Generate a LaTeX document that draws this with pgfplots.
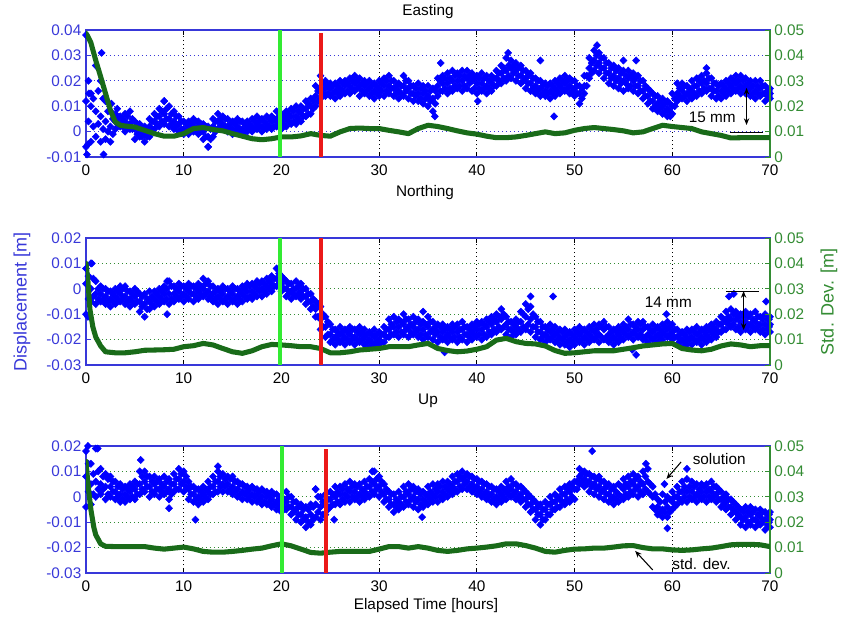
\documentclass[border=0pt]{standalone}
\usepackage{pgfplots}
\usepackage{pgfplotstable}
\pgfplotsset{compat=1.18}
\usetikzlibrary{arrows.meta}
\usepackage{fontspec}
\setmainfont{Liberation Sans}
\definecolor{ptblue}{rgb}{0,0,1}
\definecolor{sdgreen}{rgb}{0.1,0.42,0.1}
\definecolor{lblue}{rgb}{0.22,0.22,0.85}
\definecolor{rgreen}{rgb}{0.2,0.55,0.2}
\definecolor{vgreen}{rgb}{0.2,0.92,0.2}
\definecolor{vred}{rgb}{0.92,0.1,0.1}
\newcommand\tf{\fontsize{11.5}{13}\selectfont}
\newcommand\lf{\fontsize{13.5}{15}\selectfont}
\tikzset{ann/.style={black, line width=0.8pt}}

\pgfplotstableread{
x a b c xq d e
0.0 -0.006 0.012 0.038 0.25 0.004 0.020
0.5 -0.004 0.010 0.015 0.75 0.002 0.013
1.0 -0.002 0.008 0.026 1.25 0.003 0.016
1.5 -0.004 0.006 0.020 1.75 0.001 0.013
2.0 -0.003 0.004 0.012 2.25 0.000 0.008
2.5 -0.004 0.002 0.008 2.75 -0.001 0.005
3.0 0.001 0.004 0.007 3.25 0.003 0.005
3.5 0.002 0.003 0.006 3.75 0.002 0.005
4.0 0.000 0.004 0.007 4.25 0.002 0.006
4.5 0.001 0.003 0.008 4.75 0.001 0.005
5.0 -0.003 0.001 0.004 5.25 -0.001 0.003
5.5 -0.002 0.000 0.003 5.75 -0.002 0.001
6.0 -0.004 -0.001 0.002 6.25 -0.002 0.001
6.5 -0.002 0.002 0.005 6.75 0.001 0.004
7.0 0.001 0.004 0.007 7.25 0.003 0.006
7.5 0.002 0.006 0.009 7.75 0.004 0.008
8.0 0.003 0.007 0.012 8.25 0.005 0.009
8.5 0.002 0.005 0.010 8.75 0.003 0.007
9.0 0.001 0.004 0.008 9.25 0.002 0.006
9.5 0.000 0.003 0.006 9.75 0.001 0.004
10.0 -0.001 0.001 0.004 10.25 0.000 0.003
10.5 -0.001 0.002 0.004 10.75 0.001 0.003
11.0 0.000 0.002 0.005 11.25 0.001 0.004
11.5 -0.001 0.002 0.004 11.75 0.000 0.003
12.0 -0.003 0.000 0.003 12.25 -0.002 0.002
12.5 -0.006 -0.002 0.002 12.75 -0.003 0.001
13.0 -0.002 0.002 0.005 13.25 0.000 0.004
13.5 0.001 0.004 0.007 13.75 0.002 0.005
14.0 0.001 0.003 0.006 14.25 0.002 0.005
14.5 0.000 0.002 0.005 14.75 0.001 0.003
15.0 -0.001 0.001 0.004 15.25 0.000 0.003
15.5 0.000 0.002 0.005 15.75 0.001 0.004
16.0 -0.001 0.001 0.004 16.25 0.000 0.003
16.5 0.000 0.002 0.004 16.75 0.001 0.003
17.0 0.000 0.002 0.005 17.25 0.001 0.004
17.5 0.001 0.003 0.006 17.75 0.002 0.004
18.0 0.000 0.002 0.005 18.25 0.001 0.004
18.5 0.001 0.003 0.006 18.75 0.002 0.005
19.0 0.001 0.004 0.006 19.25 0.002 0.005
19.5 0.002 0.004 0.008 19.75 0.003 0.006
20.0 0.001 0.004 0.007 20.25 0.003 0.006
20.5 0.002 0.005 0.008 20.75 0.004 0.007
21.0 0.003 0.006 0.009 21.25 0.004 0.008
21.5 0.003 0.006 0.010 21.75 0.005 0.008
22.0 0.004 0.007 0.010 22.25 0.006 0.009
22.5 0.006 0.009 0.012 22.75 0.007 0.011
23.0 0.007 0.010 0.013 23.25 0.009 0.012
23.5 0.010 0.014 0.018 23.75 0.012 0.016
24.0 0.013 0.017 0.022 24.25 0.015 0.019
24.5 0.014 0.017 0.020 24.75 0.015 0.018
25.0 0.014 0.017 0.019 25.25 0.015 0.018
25.5 0.013 0.016 0.019 25.75 0.015 0.018
26.0 0.014 0.017 0.020 26.25 0.016 0.019
26.5 0.015 0.018 0.020 26.75 0.016 0.019
27.0 0.015 0.018 0.021 27.25 0.017 0.020
27.5 0.016 0.019 0.022 27.75 0.017 0.020
28.0 0.014 0.018 0.021 28.25 0.016 0.019
28.5 0.015 0.018 0.020 28.75 0.016 0.019
29.0 0.014 0.017 0.020 29.25 0.015 0.018
29.5 0.013 0.016 0.019 29.75 0.015 0.018
30.0 0.014 0.017 0.020 30.25 0.016 0.019
30.5 0.014 0.018 0.021 30.75 0.016 0.020
31.0 0.015 0.018 0.022 31.25 0.017 0.020
31.5 0.014 0.017 0.020 31.75 0.015 0.018
32.0 0.013 0.016 0.019 32.25 0.015 0.018
32.5 0.014 0.018 0.022 32.75 0.016 0.020
33.0 0.013 0.017 0.020 33.25 0.015 0.018
33.5 0.012 0.015 0.018 33.75 0.014 0.017
34.0 0.012 0.015 0.019 34.25 0.013 0.017
34.5 0.011 0.015 0.018 34.75 0.013 0.016
35.0 0.010 0.014 0.018 35.25 0.012 0.016
35.5 0.008 0.013 0.017 35.75 0.011 0.016
36.0 0.014 0.018 0.021 36.25 0.016 0.020
36.5 0.016 0.019 0.022 36.75 0.017 0.021
37.0 0.015 0.019 0.023 37.25 0.017 0.021
37.5 0.016 0.020 0.024 37.75 0.018 0.022
38.0 0.017 0.020 0.023 38.25 0.018 0.022
38.5 0.016 0.020 0.024 38.75 0.018 0.022
39.0 0.017 0.021 0.024 39.25 0.019 0.022
39.5 0.016 0.020 0.023 39.75 0.017 0.021
40.0 0.015 0.019 0.022 40.25 0.017 0.021
40.5 0.016 0.019 0.023 40.75 0.017 0.021
41.0 0.015 0.018 0.022 41.25 0.017 0.020
41.5 0.016 0.019 0.022 41.75 0.018 0.021
42.0 0.018 0.021 0.024 42.25 0.020 0.023
42.5 0.019 0.023 0.026 42.75 0.021 0.025
43.0 0.020 0.024 0.029 43.25 0.022 0.026
43.5 0.021 0.025 0.028 43.75 0.023 0.026
44.0 0.020 0.024 0.027 44.25 0.022 0.025
44.5 0.019 0.022 0.026 44.75 0.020 0.024
45.0 0.017 0.021 0.024 45.25 0.019 0.022
45.5 0.016 0.019 0.023 45.75 0.017 0.021
46.0 0.015 0.018 0.021 46.25 0.016 0.020
46.5 0.014 0.017 0.020 46.75 0.015 0.018
47.0 0.014 0.016 0.019 47.25 0.015 0.018
47.5 0.013 0.016 0.019 47.75 0.015 0.018
48.0 0.014 0.017 0.020 48.25 0.016 0.019
48.5 0.015 0.018 0.021 48.75 0.017 0.020
49.0 0.016 0.019 0.022 49.25 0.017 0.020
49.5 0.015 0.018 0.021 49.75 0.016 0.020
50.0 0.014 0.017 0.020 50.25 0.015 0.018
50.5 0.011 0.015 0.018 50.75 0.013 0.017
51.0 0.015 0.018 0.022 51.25 0.018 0.022
51.5 0.021 0.025 0.029 51.75 0.023 0.027
52.0 0.024 0.028 0.032 52.25 0.026 0.030
52.5 0.023 0.027 0.031 52.75 0.025 0.029
53.0 0.021 0.025 0.029 53.25 0.023 0.027
53.5 0.019 0.023 0.027 53.75 0.021 0.025
54.0 0.018 0.022 0.026 54.25 0.020 0.024
54.5 0.017 0.021 0.025 54.75 0.019 0.023
55.0 0.016 0.020 0.024 55.25 0.019 0.022
55.5 0.017 0.021 0.024 55.75 0.018 0.022
56.0 0.016 0.020 0.023 56.25 0.018 0.021
56.5 0.015 0.018 0.022 56.75 0.016 0.020
57.0 0.013 0.016 0.020 57.25 0.014 0.018
57.5 0.011 0.014 0.017 57.75 0.012 0.016
58.0 0.009 0.012 0.015 58.25 0.010 0.014
58.5 0.008 0.011 0.014 58.75 0.009 0.012
59.0 0.007 0.010 0.013 59.25 0.008 0.011
59.5 0.006 0.009 0.012 59.75 0.008 0.011
60.0 0.007 0.010 0.015 60.25 0.010 0.013
60.5 0.012 0.015 0.019 60.75 0.014 0.017
61.0 0.013 0.016 0.019 61.25 0.014 0.018
61.5 0.012 0.015 0.018 61.75 0.014 0.017
62.0 0.013 0.016 0.020 62.25 0.015 0.018
62.5 0.014 0.018 0.021 62.75 0.016 0.020
63.0 0.015 0.019 0.022 63.25 0.017 0.020
63.5 0.016 0.019 0.023 63.75 0.017 0.021
64.0 0.014 0.017 0.021 64.25 0.016 0.019
64.5 0.013 0.016 0.019 64.75 0.014 0.018
65.0 0.013 0.016 0.019 65.25 0.015 0.018
65.5 0.014 0.017 0.020 65.75 0.016 0.019
66.0 0.015 0.018 0.021 66.25 0.017 0.020
66.5 0.016 0.019 0.022 66.75 0.017 0.020
67.0 0.015 0.018 0.022 67.25 0.017 0.020
67.5 0.015 0.018 0.021 67.75 0.016 0.019
68.0 0.014 0.017 0.020 68.25 0.015 0.018
68.5 0.013 0.016 0.020 68.75 0.015 0.018
69.0 0.014 0.017 0.020 69.25 0.015 0.018
69.5 0.012 0.015 0.018 69.75 0.014 0.016
70.0 0.013 0.015 0.017 69.9 0.014 0.016
}\eastblue

\pgfplotstableread{
x s
0 0.0487
0.25 0.047
0.5 0.045
0.75 0.0415
1 0.038
1.5 0.0316
2 0.025
2.5 0.0184
3 0.0138
3.5 0.0125
4 0.0122
5 0.0118
6 0.0105
7 0.0092
8 0.0082
9 0.0082
10 0.0092
11 0.0112
12 0.0116
13 0.0108
14 0.0103
15 0.0092
16 0.0082
17 0.0072
18 0.0068
19 0.0072
20 0.0079
21 0.0079
22 0.0083
23 0.0092
24 0.0085
25 0.0082
26 0.0099
27 0.0112
28 0.0114
29 0.0112
30 0.0112
31 0.0105
32 0.0099
33 0.0092
34 0.0112
35 0.0125
36 0.012
37 0.0112
38 0.0103
39 0.0095
40 0.009
41 0.0082
42 0.0076
43 0.0076
44 0.0079
45 0.0085
46 0.0092
47 0.0099
48 0.0092
49 0.0095
50 0.0105
51 0.0112
52 0.0116
53 0.0112
54 0.0108
55 0.0103
56 0.0095
57 0.0099
58 0.0112
59 0.0125
60 0.012
61 0.0116
62 0.0112
63 0.0099
64 0.0092
65 0.0085
66 0.0075
67 0.0076
68 0.0076
69 0.0076
70 0.0076
}\eastsd

\pgfplotstableread{
x a b c xq d e
0.0 -0.010 0.002 0.008 0.25 -0.004 0.005
0.5 -0.005 0.000 0.010 0.75 -0.003 0.004
1.0 -0.006 -0.002 0.003 1.25 -0.004 0.000
1.5 -0.005 -0.002 0.001 1.75 -0.004 0.000
2.0 -0.006 -0.003 0.000 2.25 -0.005 -0.001
2.5 -0.007 -0.004 -0.001 2.75 -0.005 -0.002
3.0 -0.006 -0.003 0.000 3.25 -0.004 -0.001
3.5 -0.005 -0.002 0.001 3.75 -0.004 0.000
4.0 -0.006 -0.003 0.001 4.25 -0.005 -0.001
4.5 -0.007 -0.004 -0.001 4.75 -0.005 -0.002
5.0 -0.006 -0.003 0.000 5.25 -0.005 -0.001
5.5 -0.009 -0.005 -0.002 5.75 -0.007 -0.003
6.0 -0.011 -0.006 -0.002 6.25 -0.008 -0.004
6.5 -0.008 -0.005 -0.001 6.75 -0.006 -0.003
7.0 -0.007 -0.004 -0.001 7.25 -0.005 -0.002
7.5 -0.006 -0.003 0.000 7.75 -0.004 -0.001
8.0 -0.005 -0.002 0.001 8.25 -0.004 0.000
8.5 -0.006 -0.002 0.003 8.75 -0.004 0.001
9.0 -0.005 -0.002 0.001 9.25 -0.003 0.000
9.5 -0.004 -0.001 0.002 9.75 -0.003 0.001
10.0 -0.005 -0.002 0.001 10.25 -0.003 0.000
10.5 -0.004 -0.001 0.002 10.75 -0.002 0.001
11.0 -0.005 -0.002 0.001 11.25 -0.003 0.000
11.5 -0.004 -0.001 0.002 11.75 -0.002 0.001
12.0 -0.003 0.000 0.004 12.25 -0.002 0.002
12.5 -0.004 -0.001 0.003 12.75 -0.003 0.001
13.0 -0.005 -0.002 0.001 13.25 -0.004 -0.001
13.5 -0.006 -0.003 0.000 13.75 -0.004 -0.001
14.0 -0.005 -0.002 0.001 14.25 -0.004 0.000
14.5 -0.006 -0.003 0.000 14.75 -0.004 -0.001
15.0 -0.005 -0.002 0.001 15.25 -0.004 0.000
15.5 -0.006 -0.003 0.000 15.75 -0.004 -0.001
16.0 -0.005 -0.002 0.001 16.25 -0.003 0.000
16.5 -0.004 -0.001 0.002 16.75 -0.003 0.001
17.0 -0.004 -0.001 0.002 17.25 -0.002 0.001
17.5 -0.003 0.000 0.003 17.75 -0.001 0.002
18.0 -0.003 0.000 0.003 18.25 -0.001 0.002
18.5 -0.002 0.001 0.004 18.75 0.000 0.003
19.0 -0.001 0.002 0.005 19.25 0.001 0.004
19.5 0.001 0.004 0.008 19.75 0.002 0.006
20.0 -0.001 0.002 0.005 20.25 0.000 0.004
20.5 -0.003 0.000 0.003 20.75 -0.002 0.002
21.0 -0.004 -0.001 0.002 21.25 -0.002 0.000
21.5 -0.003 0.000 0.003 21.75 -0.002 0.001
22.0 -0.004 -0.001 0.002 22.25 -0.003 0.000
22.5 -0.006 -0.003 0.000 22.75 -0.005 -0.002
23.0 -0.008 -0.005 -0.002 23.25 -0.007 -0.004
23.5 -0.011 -0.008 -0.005 23.75 -0.011 -0.006
24.0 -0.016 -0.012 -0.007 24.25 -0.015 -0.010
24.5 -0.019 -0.015 -0.011 24.75 -0.018 -0.013
25.0 -0.021 -0.018 -0.014 25.25 -0.020 -0.016
25.5 -0.022 -0.019 -0.016 25.75 -0.020 -0.017
26.0 -0.021 -0.018 -0.015 26.25 -0.020 -0.017
26.5 -0.022 -0.019 -0.016 26.75 -0.020 -0.017
27.0 -0.021 -0.018 -0.015 27.25 -0.020 -0.016
27.5 -0.022 -0.019 -0.016 27.75 -0.020 -0.017
28.0 -0.021 -0.018 -0.015 28.25 -0.020 -0.017
28.5 -0.022 -0.019 -0.016 28.75 -0.021 -0.018
29.0 -0.023 -0.020 -0.017 29.25 -0.021 -0.018
29.5 -0.022 -0.019 -0.016 29.75 -0.021 -0.018
30.0 -0.022 -0.020 -0.017 30.25 -0.021 -0.018
30.5 -0.021 -0.018 -0.015 30.75 -0.019 -0.016
31.0 -0.019 -0.016 -0.012 31.25 -0.018 -0.014
31.5 -0.018 -0.015 -0.011 31.75 -0.017 -0.013
32.0 -0.019 -0.015 -0.012 32.25 -0.017 -0.013
32.5 -0.018 -0.014 -0.010 32.75 -0.016 -0.012
33.0 -0.019 -0.015 -0.012 33.25 -0.017 -0.014
33.5 -0.018 -0.015 -0.011 33.75 -0.017 -0.013
34.0 -0.019 -0.016 -0.012 34.25 -0.018 -0.014
34.5 -0.020 -0.016 -0.013 34.75 -0.018 -0.014
35.0 -0.019 -0.015 -0.011 35.25 -0.017 -0.013
35.5 -0.020 -0.016 -0.013 35.75 -0.018 -0.015
36.0 -0.021 -0.017 -0.014 36.25 -0.019 -0.015
36.5 -0.020 -0.017 -0.014 36.75 -0.019 -0.016
37.0 -0.021 -0.018 -0.015 37.25 -0.019 -0.016
37.5 -0.020 -0.017 -0.014 37.75 -0.019 -0.015
38.0 -0.021 -0.017 -0.014 38.25 -0.019 -0.016
38.5 -0.020 -0.016 -0.013 38.75 -0.018 -0.015
39.0 -0.021 -0.018 -0.015 39.25 -0.019 -0.016
39.5 -0.020 -0.017 -0.014 39.75 -0.018 -0.015
40.0 -0.019 -0.016 -0.013 40.25 -0.018 -0.014
40.5 -0.020 -0.016 -0.013 40.75 -0.018 -0.014
41.0 -0.019 -0.015 -0.012 41.25 -0.017 -0.013
41.5 -0.018 -0.014 -0.011 41.75 -0.016 -0.012
42.0 -0.017 -0.013 -0.010 42.25 -0.015 -0.011
42.5 -0.016 -0.012 -0.008 42.75 -0.015 -0.010
43.0 -0.018 -0.014 -0.011 43.25 -0.016 -0.013
43.5 -0.019 -0.016 -0.013 43.75 -0.017 -0.014
44.0 -0.018 -0.015 -0.012 44.25 -0.016 -0.013
44.5 -0.017 -0.013 -0.009 44.75 -0.015 -0.010
45.0 -0.016 -0.011 -0.006 45.25 -0.014 -0.008
45.5 -0.017 -0.012 -0.007 45.75 -0.015 -0.010
46.0 -0.019 -0.015 -0.011 46.25 -0.017 -0.013
46.5 -0.020 -0.017 -0.013 46.75 -0.019 -0.015
47.0 -0.021 -0.018 -0.015 47.25 -0.019 -0.016
47.5 -0.020 -0.017 -0.014 47.75 -0.019 -0.016
48.0 -0.021 -0.018 -0.015 48.25 -0.020 -0.017
48.5 -0.022 -0.019 -0.016 48.75 -0.020 -0.017
49.0 -0.022 -0.019 -0.016 49.25 -0.021 -0.018
49.5 -0.023 -0.020 -0.017 49.75 -0.021 -0.018
50.0 -0.022 -0.019 -0.016 50.25 -0.020 -0.017
50.5 -0.021 -0.018 -0.015 50.75 -0.020 -0.017
51.0 -0.022 -0.019 -0.016 51.25 -0.020 -0.017
51.5 -0.021 -0.018 -0.015 51.75 -0.019 -0.016
52.0 -0.020 -0.017 -0.014 52.25 -0.019 -0.016
52.5 -0.021 -0.018 -0.014 52.75 -0.019 -0.015
53.0 -0.020 -0.016 -0.013 53.25 -0.019 -0.015
53.5 -0.021 -0.018 -0.015 53.75 -0.020 -0.017
54.0 -0.022 -0.019 -0.016 54.25 -0.020 -0.017
54.5 -0.021 -0.018 -0.015 54.75 -0.019 -0.016
55.0 -0.020 -0.017 -0.014 55.25 -0.018 -0.015
55.5 -0.019 -0.016 -0.012 55.75 -0.018 -0.014
56.0 -0.020 -0.017 -0.014 56.25 -0.018 -0.015
56.5 -0.019 -0.016 -0.013 56.75 -0.018 -0.014
57.0 -0.020 -0.016 -0.013 57.25 -0.019 -0.015
57.5 -0.021 -0.018 -0.015 57.75 -0.019 -0.016
58.0 -0.020 -0.017 -0.014 58.25 -0.019 -0.016
58.5 -0.021 -0.018 -0.015 58.75 -0.019 -0.016
59.0 -0.020 -0.017 -0.014 59.25 -0.018 -0.015
59.5 -0.019 -0.016 -0.013 59.75 -0.018 -0.015
60.0 -0.020 -0.017 -0.014 60.25 -0.019 -0.016
60.5 -0.022 -0.019 -0.016 60.75 -0.021 -0.018
61.0 -0.023 -0.020 -0.017 61.25 -0.021 -0.018
61.5 -0.022 -0.019 -0.016 61.75 -0.020 -0.017
62.0 -0.022 -0.019 -0.016 62.25 -0.020 -0.017
62.5 -0.021 -0.018 -0.015 62.75 -0.020 -0.017
63.0 -0.022 -0.019 -0.016 63.25 -0.020 -0.017
63.5 -0.021 -0.018 -0.015 63.75 -0.019 -0.016
64.0 -0.020 -0.017 -0.014 64.25 -0.018 -0.015
64.5 -0.019 -0.016 -0.013 64.75 -0.017 -0.014
65.0 -0.017 -0.014 -0.011 65.25 -0.016 -0.012
65.5 -0.016 -0.013 -0.009 65.75 -0.014 -0.011
66.0 -0.015 -0.012 -0.008 66.25 -0.014 -0.010
66.5 -0.016 -0.012 -0.009 66.75 -0.015 -0.011
67.0 -0.017 -0.013 -0.010 67.25 -0.015 -0.011
67.5 -0.016 -0.013 -0.009 67.75 -0.015 -0.011
68.0 -0.017 -0.014 -0.010 68.25 -0.015 -0.012
68.5 -0.016 -0.013 -0.009 68.75 -0.015 -0.011
69.0 -0.017 -0.014 -0.011 69.25 -0.016 -0.012
69.5 -0.018 -0.014 -0.010 69.75 -0.016 -0.012
70.0 -0.017 -0.014 -0.011 69.9 -0.015 -0.012
}\northblue

\pgfplotstableread{
x s
0 0.040
0.2 0.033
0.4 0.022
0.7 0.015
1 0.011
1.5 0.0075
2 0.0052
3 0.0048
4 0.0048
5 0.0052
6 0.0058
7 0.0059
8 0.006
9 0.0062
10 0.0072
11 0.0076
12 0.0085
13 0.0079
14 0.0065
15 0.0052
16 0.0046
17 0.0056
18 0.0072
19 0.0081
20 0.0079
21 0.0076
22 0.0072
23 0.0072
24 0.0065
25 0.0048
26 0.0048
27 0.0052
28 0.0059
29 0.0062
30 0.0065
31 0.0072
32 0.0072
33 0.0072
34 0.0079
35 0.0085
36 0.0065
37 0.0057
38 0.0052
39 0.0055
40 0.0062
41 0.0072
42 0.0098
43 0.0105
44 0.0092
45 0.0085
46 0.0083
47 0.0075
48 0.0057
49 0.0046
50 0.0048
51 0.0052
52 0.0056
53 0.0056
54 0.0056
55 0.0062
56 0.0068
57 0.0075
58 0.0079
59 0.0083
60 0.0085
61 0.0065
62 0.0059
63 0.0056
64 0.0062
65 0.0075
66 0.0083
67 0.0079
68 0.0072
69 0.0076
70 0.0076
}\northsd

\pgfplotstableread{
x a b c xq d e
0.0 -0.004 0.008 0.018 0.25 0.002 0.013
0.5 -0.003 0.005 0.013 0.75 0.001 0.009
1.0 0.000 0.006 0.019 1.25 0.003 0.010
1.5 0.001 0.005 0.011 1.75 0.003 0.008
2.0 -0.001 0.004 0.009 2.25 0.001 0.007
2.5 0.000 0.004 0.008 2.75 0.002 0.006
3.0 -0.001 0.002 0.006 3.25 0.000 0.004
3.5 -0.002 0.001 0.005 3.75 -0.001 0.003
4.0 -0.002 0.001 0.004 4.25 0.000 0.003
4.5 -0.001 0.002 0.005 4.75 0.000 0.004
5.0 -0.001 0.003 0.006 5.25 0.001 0.005
5.5 0.001 0.005 0.010 5.75 0.003 0.008
6.0 0.002 0.006 0.010 6.25 0.004 0.008
6.5 0.000 0.004 0.008 6.75 0.002 0.006
7.0 0.001 0.005 0.008 7.25 0.003 0.006
7.5 0.000 0.003 0.007 7.75 0.002 0.005
8.0 0.001 0.004 0.008 8.25 0.002 0.006
8.5 -0.001 0.003 0.007 8.75 0.001 0.005
9.0 0.002 0.005 0.009 9.25 0.003 0.007
9.5 0.003 0.007 0.011 9.75 0.005 0.009
10.0 0.002 0.006 0.010 10.25 0.004 0.008
10.5 -0.001 0.003 0.006 10.75 0.001 0.004
11.0 -0.002 0.001 0.004 11.25 -0.001 0.003
11.5 -0.003 0.000 0.003 11.75 -0.001 0.002
12.0 -0.002 0.001 0.004 12.25 0.000 0.003
12.5 -0.001 0.002 0.006 12.75 0.001 0.004
13.0 0.001 0.004 0.008 13.25 0.002 0.006
13.5 0.002 0.006 0.010 13.75 0.004 0.008
14.0 0.002 0.005 0.009 14.25 0.004 0.007
14.5 0.002 0.005 0.008 14.75 0.003 0.007
15.0 0.001 0.004 0.008 15.25 0.002 0.006
15.5 0.000 0.003 0.006 15.75 0.001 0.005
16.0 -0.001 0.002 0.005 16.25 0.001 0.004
16.5 -0.001 0.002 0.004 16.75 0.000 0.003
17.0 -0.002 0.001 0.004 17.25 0.000 0.003
17.5 -0.002 0.001 0.003 17.75 -0.001 0.002
18.0 -0.003 0.000 0.003 18.25 -0.002 0.002
18.5 -0.003 0.000 0.002 18.75 -0.002 0.001
19.0 -0.004 -0.001 0.002 19.25 -0.003 0.001
19.5 -0.005 -0.002 0.001 19.75 -0.004 -0.001
20.0 -0.006 -0.003 0.000 20.25 -0.004 -0.001
20.5 -0.005 -0.002 0.002 20.75 -0.004 0.000
21.0 -0.007 -0.004 0.000 21.25 -0.006 -0.002
21.5 -0.009 -0.005 -0.002 21.75 -0.007 -0.004
22.0 -0.010 -0.007 -0.003 22.25 -0.009 -0.005
22.5 -0.012 -0.008 -0.004 22.75 -0.010 -0.005
23.0 -0.011 -0.007 -0.003 23.25 -0.009 -0.004
23.5 -0.008 -0.003 0.003 23.75 -0.006 0.000
24.0 -0.009 -0.004 0.000 24.25 -0.007 -0.002
24.5 -0.007 -0.003 0.001 24.75 -0.005 -0.001
25.0 -0.004 -0.001 0.002 25.25 -0.003 0.001
25.5 -0.003 0.000 0.004 25.75 -0.002 0.002
26.0 -0.003 0.001 0.004 26.25 -0.001 0.003
26.5 -0.002 0.001 0.005 26.75 0.000 0.003
27.0 -0.002 0.002 0.006 27.25 0.000 0.004
27.5 -0.001 0.002 0.005 27.75 0.000 0.004
28.0 -0.002 0.001 0.005 28.25 0.000 0.003
28.5 -0.001 0.002 0.006 28.75 0.001 0.004
29.0 0.000 0.004 0.007 29.25 0.002 0.006
29.5 0.001 0.005 0.010 29.75 0.003 0.007
30.0 0.000 0.004 0.008 30.25 0.002 0.006
30.5 -0.002 0.001 0.005 30.75 -0.001 0.003
31.0 -0.004 -0.001 0.002 31.25 -0.003 0.001
31.5 -0.006 -0.003 0.001 31.75 -0.004 -0.001
32.0 -0.005 -0.002 0.002 32.25 -0.003 0.000
32.5 -0.004 0.000 0.004 32.75 -0.002 0.002
33.0 -0.003 0.001 0.005 33.25 -0.001 0.003
33.5 -0.004 0.000 0.004 33.75 -0.002 0.002
34.0 -0.005 -0.001 0.003 34.25 -0.003 0.001
34.5 -0.004 -0.001 0.002 34.75 -0.002 0.001
35.0 -0.003 0.000 0.004 35.25 -0.001 0.002
35.5 -0.002 0.001 0.005 35.75 0.000 0.003
36.0 -0.002 0.002 0.005 36.25 0.000 0.004
36.5 -0.001 0.002 0.006 36.75 0.001 0.004
37.0 0.000 0.003 0.006 37.25 0.002 0.005
37.5 0.001 0.004 0.008 37.75 0.003 0.006
38.0 0.002 0.006 0.009 38.25 0.004 0.008
38.5 0.003 0.007 0.010 38.75 0.005 0.008
39.0 0.003 0.006 0.009 39.25 0.004 0.008
39.5 0.002 0.005 0.008 39.75 0.003 0.007
40.0 0.001 0.004 0.007 40.25 0.002 0.006
40.5 0.000 0.003 0.006 40.75 0.001 0.005
41.0 -0.001 0.002 0.005 41.25 0.000 0.004
41.5 -0.002 0.001 0.004 41.75 -0.001 0.003
42.0 -0.003 0.000 0.003 42.25 -0.001 0.002
42.5 -0.002 0.001 0.004 42.75 0.000 0.003
43.0 -0.001 0.002 0.006 43.25 0.001 0.004
43.5 0.000 0.003 0.007 43.75 0.001 0.005
44.0 -0.001 0.002 0.005 44.25 0.000 0.004
44.5 -0.002 0.001 0.004 44.75 -0.001 0.003
45.0 -0.004 -0.001 0.002 45.25 -0.003 0.001
45.5 -0.006 -0.003 0.000 45.75 -0.005 -0.001
46.0 -0.009 -0.005 -0.002 46.25 -0.007 -0.004
46.5 -0.011 -0.007 -0.003 46.75 -0.009 -0.005
47.0 -0.009 -0.005 -0.002 47.25 -0.007 -0.003
47.5 -0.007 -0.003 0.000 47.75 -0.005 -0.002
48.0 -0.005 -0.002 0.001 48.25 -0.004 0.000
48.5 -0.004 -0.001 0.003 48.75 -0.002 0.001
49.0 -0.003 0.001 0.004 49.25 -0.001 0.003
49.5 -0.002 0.002 0.005 49.75 0.000 0.004
50.0 -0.001 0.003 0.006 50.25 0.003 0.006
50.5 0.005 0.008 0.011 50.75 0.006 0.009
51.0 0.004 0.007 0.010 51.25 0.005 0.009
51.5 0.002 0.006 0.009 51.75 0.004 0.008
52.0 0.001 0.005 0.008 52.25 0.003 0.007
52.5 0.000 0.004 0.008 52.75 0.002 0.006
53.0 -0.001 0.003 0.006 53.25 0.001 0.004
53.5 -0.002 0.001 0.005 53.75 -0.001 0.003
54.0 -0.003 0.000 0.004 54.25 -0.001 0.002
54.5 -0.002 0.001 0.005 54.75 0.000 0.004
55.0 -0.001 0.003 0.007 55.25 0.001 0.005
55.5 0.000 0.004 0.008 55.75 0.002 0.006
56.0 0.001 0.005 0.009 56.25 0.003 0.007
56.5 0.000 0.004 0.008 56.75 0.002 0.006
57.0 0.001 0.005 0.010 57.25 0.003 0.008
57.5 0.002 0.006 0.011 57.75 0.001 0.005
58.0 -0.004 0.000 0.004 58.25 -0.005 0.001
58.5 -0.007 -0.004 -0.001 58.75 -0.006 -0.002
59.0 -0.008 -0.005 0.001 59.25 -0.006 -0.002
59.5 -0.008 -0.004 0.000 59.75 -0.006 -0.001
60.0 -0.005 -0.002 0.002 60.25 -0.004 0.000
60.5 -0.003 0.000 0.004 60.75 -0.001 0.002
61.0 -0.002 0.002 0.006 61.25 0.000 0.004
61.5 -0.002 0.002 0.007 61.75 0.000 0.004
62.0 -0.001 0.002 0.006 62.25 0.000 0.004
62.5 -0.002 0.001 0.005 62.75 0.000 0.003
63.0 -0.001 0.002 0.005 63.25 0.000 0.004
63.5 -0.002 0.002 0.005 63.75 0.000 0.003
64.0 -0.001 0.002 0.006 64.25 0.000 0.004
64.5 -0.002 0.001 0.004 64.75 -0.001 0.003
65.0 -0.004 -0.001 0.002 65.25 -0.003 0.000
65.5 -0.005 -0.002 0.001 65.75 -0.004 -0.001
66.0 -0.007 -0.004 -0.001 66.25 -0.005 -0.002
66.5 -0.009 -0.006 -0.003 66.75 -0.007 -0.004
67.0 -0.011 -0.008 -0.005 67.25 -0.009 -0.006
67.5 -0.012 -0.008 -0.004 67.75 -0.010 -0.006
68.0 -0.011 -0.007 -0.004 68.25 -0.009 -0.006
68.5 -0.012 -0.009 -0.005 68.75 -0.010 -0.007
69.0 -0.011 -0.008 -0.005 69.25 -0.010 -0.006
69.5 -0.013 -0.009 -0.006 69.75 -0.011 -0.007
70.0 -0.012 -0.009 -0.006 69.9 -0.010 -0.007
}\upblue

\pgfplotstableread{
x s
0 0.044
0.2 0.035
0.5 0.025
0.8 0.018
1 0.015
1.5 0.0115
2 0.0105
3 0.0104
4 0.0104
5 0.0104
6 0.0104
7 0.0098
8 0.0094
9 0.0098
10 0.0102
11 0.0095
12 0.0085
13 0.0082
14 0.0082
15 0.0085
16 0.0089
17 0.0094
18 0.0098
19 0.0107
20 0.0115
21 0.0107
22 0.0094
23 0.0081
24 0.0078
25 0.0082
26 0.0085
27 0.0085
28 0.0085
29 0.0085
30 0.0094
31 0.0104
32 0.0104
33 0.0098
34 0.0104
35 0.0098
36 0.0089
37 0.0085
38 0.0089
39 0.0095
40 0.0098
41 0.0102
42 0.0107
43 0.0115
44 0.0115
45 0.0108
46 0.0098
47 0.0085
48 0.0082
49 0.0089
50 0.0094
51 0.0095
52 0.0098
53 0.0098
54 0.0102
55 0.0107
56 0.0108
57 0.0100
58 0.0095
59 0.0095
60 0.0091
61 0.0089
62 0.0091
63 0.0095
64 0.0098
65 0.0104
66 0.0111
67 0.0113
68 0.0113
69 0.0111
70 0.0104
}\upsd

\pgfplotsset{
  base/.style={scale only axis, width=513pt, height=95.25pt, xmin=0, xmax=70,
    anchor=north west, tick align=inside, major tick length=4pt,
    axis line style={line width=0.8pt}, every tick/.style={line width=0.6pt},
    tick label style={font=\tf}, scaled y ticks=false, clip=true},
  lefta/.style={base, ytick pos=left, xtick pos=both,
    y axis line style={lblue}, y tick style={lblue}, yticklabel style={text=lblue},
    xtick={0,10,...,70}, xticklabels={0,10,20,30,40,50,60,70},
    xticklabel style={inner sep=0pt, yshift=-5.5pt},
    xmajorgrids, ymajorgrids,
    x grid style={black, line width=0.6pt, dash pattern=on 0.7pt off 2.3pt}},
  rightb/.style={base, axis y line*=right, axis x line=none,
    y axis line style={rgreen}, y tick style={rgreen},
    yticklabel style={text=rgreen, inner sep=0pt, xshift=3pt},
    ymin=0, ymax=0.05, ytick={0,0.01,0.02,0.03,0.04,0.05},
    yticklabels={0,0.01,0.02,0.03,0.04,0.05}},
  bpts/.style={only marks, mark=diamond*, mark size=2.7pt, color=ptblue,
    mark options={solid, fill=ptblue, draw=ptblue, xscale=1.3}},
  sdl/.style={no marks, sdgreen, line width=3.8pt, line join=round, line cap=round},
  vg/.style={no marks, vgreen, line width=3pt},
  vr/.style={no marks, vred, line width=3pt}
}

\begin{document}
\begin{tikzpicture}
\path[use as bounding box] (0,0) rectangle (638.25pt,-462.75pt);

% ===== Easting =====
\begin{axis}[lefta, at={(64.5pt,-22.5pt)}, ymin=-0.01, ymax=0.04,
  ytick={-0.01,0,0.01,0.02,0.03,0.04}, yticklabels={-0.01,0,0.01,0.02,0.03,0.04},
  y grid style={lblue, line width=0.6pt, dash pattern=on 0.7pt off 2.3pt}]
\addplot[bpts] table[x=x,y=a]{\eastblue};
\addplot[bpts] table[x=x,y=b]{\eastblue};
\addplot[bpts] table[x=x,y=c]{\eastblue};
\addplot[bpts] table[x=xq,y=d]{\eastblue};
\addplot[bpts] table[x=xq,y=e]{\eastblue};
\addplot[bpts] coordinates {(0.3,0.015) (0.2,-0.005) (0.1,-0.009) (1.6,0.031) (1.8,-0.009) (8,0.012) (12.5,-0.006) (35.7,0.006) (36.3,0.027) (40.1,0.012) (46.5,0.028) (47.9,0.006) (52.3,0.034) (43.2,0.031) (55,0.028) (56.3,0.028) (59.8,0.006) (63.5,0.025) (2.6,0.011) (3.2,0.009)};
\end{axis}
\begin{axis}[rightb, at={(64.5pt,-22.5pt)}]
\addplot[sdl] table[x=x,y=s]{\eastsd};
\addplot[vg] coordinates {(19.85,0) (19.85,0.05)};
\addplot[vr] coordinates {(24.1,0) (24.1,0.0487)};
\draw[ann] (axis cs:65.9,0.0098) -- (axis cs:69.3,0.0098);
\draw[ann, {Stealth[length=5pt,width=4pt]}-{Stealth[length=5pt,width=4pt]}] (axis cs:67.6,0.0272) -- (axis cs:67.6,0.0126);
\node[font=\tf, inner sep=0pt] at (axis cs:64.1,0.0157) {15 mm};
\end{axis}

% ===== Northing =====
\begin{axis}[lefta, at={(64.5pt,-178.5pt)}, ymin=-0.03, ymax=0.02,
  ytick={-0.03,-0.02,-0.01,0,0.01,0.02}, yticklabels={-0.03,-0.02,-0.01,0,0.01,0.02},
  y grid style={rgreen, line width=0.6pt, dash pattern=on 0.7pt off 2.3pt}]
\addplot[bpts] table[x=x,y=a]{\northblue};
\addplot[bpts] table[x=x,y=b]{\northblue};
\addplot[bpts] table[x=x,y=c]{\northblue};
\addplot[bpts] table[x=xq,y=d]{\northblue};
\addplot[bpts] table[x=xq,y=e]{\northblue};
\addplot[bpts] coordinates {(0.6,0.010) (0.2,-0.011) (8.3,0.003) (8.3,-0.010) (36.7,-0.025) (47.8,-0.003) (55.9,-0.024) (56.3,-0.026) (59.4,-0.010) (61.2,-0.023) (65.8,-0.003) (66.3,-0.002) (69.6,-0.005) (45.5,-0.003) (34.5,-0.009)};
\end{axis}
\begin{axis}[rightb, at={(64.5pt,-178.5pt)}]
\addplot[sdl] table[x=x,y=s]{\northsd};
\addplot[vg] coordinates {(19.85,0) (19.85,0.05)};
\addplot[vr] coordinates {(24.1,0) (24.1,0.05)};
\draw[ann] (axis cs:65.5,0.0291) -- (axis cs:68.9,0.0291);
\draw[ann, {Stealth[length=5pt,width=4pt]}-{Stealth[length=5pt,width=4pt]}] (axis cs:67.3,0.0291) -- (axis cs:67.3,0.0138);
\node[font=\tf, inner sep=0pt] at (axis cs:59.6,0.0248) {14 mm};
\end{axis}

% ===== Up =====
\begin{axis}[lefta, at={(64.5pt,-334.5pt)}, ymin=-0.03, ymax=0.02,
  ytick={-0.03,-0.02,-0.01,0,0.01,0.02}, yticklabels={-0.03,-0.02,-0.01,0,0.01,0.02},
  y grid style={rgreen, line width=0.6pt, dash pattern=on 0.7pt off 2.3pt}]
\addplot[bpts] table[x=x,y=a]{\upblue};
\addplot[bpts] table[x=x,y=b]{\upblue};
\addplot[bpts] table[x=x,y=c]{\upblue};
\addplot[bpts] table[x=xq,y=d]{\upblue};
\addplot[bpts] table[x=xq,y=e]{\upblue};
\addplot[bpts] coordinates {(0.2,0.020) (1.2,0.019) (5.6,0.0145) (8.5,-0.0045) (11.2,-0.009) (13.5,0.012) (23.5,0.003) (29.3,0.010) (51.8,0.018) (57.3,0.013) (59.5,-0.0124) (59.2,0.005) (61.5,0.011) (34.4,-0.008) (25.4,-0.009)};
\end{axis}
\begin{axis}[rightb, at={(64.5pt,-334.5pt)}]
\addplot[sdl] table[x=x,y=s]{\upsd};
\addplot[vg] coordinates {(20.1,0) (20.1,0.05)};
\addplot[vr] coordinates {(24.6,0) (24.6,0.0487)};
\node[font=\tf, inner sep=0pt] at (axis cs:64.8,0.0449) {solution};
\draw[ann, -{Stealth[length=5pt,width=4pt]}] (axis cs:60.9,0.0437) -- (axis cs:59.4,0.037);
\node[font=\tf, inner sep=0pt] at (axis cs:63.0,0.0035) {std. dev.};
\draw[ann, -{Stealth[length=5pt,width=4pt]}] (axis cs:58.0,0.0012) -- (axis cs:56.2,0.0087);
\end{axis}

% ===== titles and labels =====
\node[font=\tf] at (321pt,-9pt) {Easting};
\node[font=\tf] at (318.75pt,-144.75pt) {Northing};
\node[font=\tf] at (321pt,-300.75pt) {Up};
\node[font=\tf] at (319.5pt,-454.5pt) {Elapsed Time [hours]};
\node[font=\lf, text=lblue, rotate=90] at (16.5pt,-226.5pt) {Displacement [m]};
\node[font=\lf, text=rgreen, rotate=90] at (621.75pt,-226.5pt) {Std. Dev. [m]};
\end{tikzpicture}
\end{document}
